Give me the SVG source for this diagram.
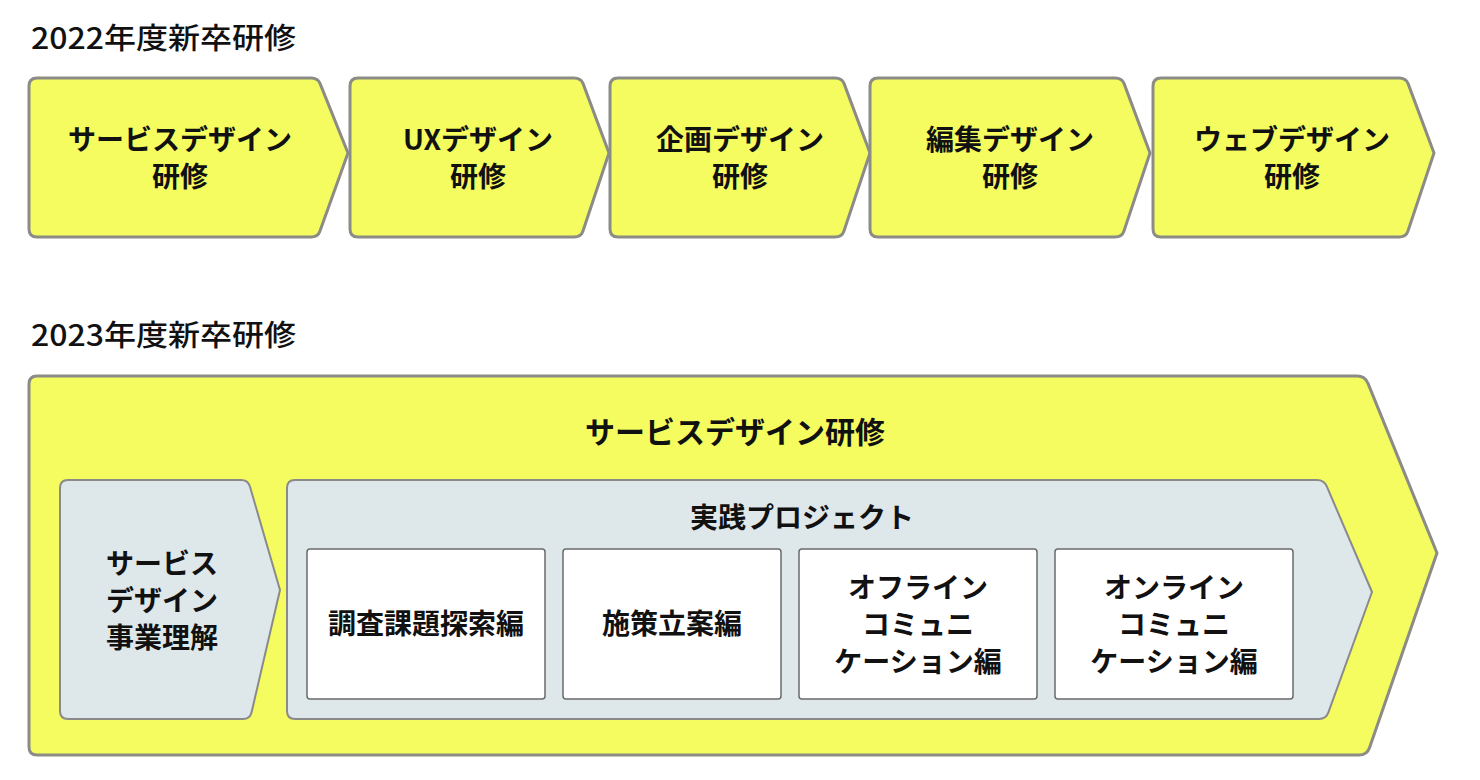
<svg xmlns="http://www.w3.org/2000/svg" width="1480" height="780" viewBox="0 0 1480 780">
<style>
.t{font-family:"Noto Sans CJK JP","Liberation Sans",sans-serif;fill:#111;}
.h{font-size:29px;font-weight:500;}
.n{font-size:28px;font-weight:700;text-anchor:middle;dominant-baseline:central;}
.big{font-size:30px;}
.y{fill:#f4fc5f;stroke:#8c8c86;stroke-width:3;stroke-linejoin:round;}
.g{fill:#dee7e9;stroke:#8a8a8a;stroke-width:2;stroke-linejoin:round;}
.w{fill:#fff;stroke:#6b6b6b;stroke-width:1.5;}
</style>
<rect width="1480" height="780" fill="#fff"/>
<text class="t h" x="31" y="49" textLength="265" lengthAdjust="spacingAndGlyphs">2022年度新卒研修</text>
<text class="t h" x="31" y="346" textLength="265" lengthAdjust="spacingAndGlyphs">2023年度新卒研修</text>

<g id="n2022-1">
<path class="y" d="M37,78 H311 Q318,78 320.1,83.6 L348,153 L319.9,231.3 Q318,237 311,237 H37 Q29,237 29,229 V86 Q29,78 37,78 Z"/>
<text class="t n" x="180" y="138">サービスデザイン</text>
<text class="t n" x="180" y="175">研修</text>
</g>
<g id="n2022-2">
<path class="y" d="M358,78 H574 Q581,78 583.1,83.6 L609,153 L582.9,231.3 Q581,237 574,237 H358 Q350,237 350,229 V86 Q350,78 358,78 Z"/>
<text class="t n" x="478" y="138">UXデザイン</text>
<text class="t n" x="478" y="175">研修</text>
</g>
<g id="n2022-3">
<path class="y" d="M618,78 H835 Q842,78 844.1,83.6 L870,153 L843.9,231.3 Q842,237 835,237 H618 Q610,237 610,229 V86 Q610,78 618,78 Z"/>
<text class="t n" x="740" y="138">企画デザイン</text>
<text class="t n" x="740" y="175">研修</text>
</g>
<g id="n2022-4">
<path class="y" d="M878,78 H1115 Q1122,78 1124.1,83.6 L1150,153 L1123.9,231.3 Q1122,237 1115,237 H878 Q870,237 870,229 V86 Q870,78 878,78 Z"/>
<text class="t n" x="1010" y="138">編集デザイン</text>
<text class="t n" x="1010" y="175">研修</text>
</g>
<g id="n2022-5">
<path class="y" d="M1161,78 H1399 Q1406,78 1408.1,83.6 L1434,153 L1407.9,231.3 Q1406,237 1399,237 H1161 Q1153,237 1153,229 V86 Q1153,78 1161,78 Z"/>
<text class="t n" x="1292" y="138">ウェブデザイン</text>
<text class="t n" x="1292" y="175">研修</text>
</g>

<g id="n2023-main">
<path class="y" d="M37,376 H1357 Q1365,376 1368,383.4 L1437,553 L1369.6,747.4 Q1367,755 1359,755 H37 Q29,755 29,747 V384 Q29,376 37,376 Z"/>
<text class="t n big" x="735" y="430">サービスデザイン研修</text>
</g>
<g id="n2023-biz">
<path class="g" d="M68,480 H241 Q248,480 250,486.7 L280,590 L251.6,712.2 Q250,719 243,719 H68 Q60,719 60,711 V488 Q60,480 68,480 Z"/>
<text class="t n" x="162" y="562">サービス</text>
<text class="t n" x="162" y="599">デザイン</text>
<text class="t n" x="162" y="636">事業理解</text>
</g>
<g id="n2023-project">
<path class="g" d="M295,480 H1317 Q1324,480 1326.8,486.4 L1372,592 L1328.4,712.4 Q1326,719 1319,719 H295 Q287,719 287,711 V488 Q287,480 295,480 Z"/>
<text class="t n" x="802" y="516">実践プロジェクト</text>
</g>
<g id="n2023-research">
<rect class="w" x="307" y="549" width="238" height="150" rx="3"/>
<text class="t n" x="426" y="622">調査課題探索編</text>
</g>
<g id="n2023-plan">
<rect class="w" x="563" y="549" width="218" height="150" rx="3"/>
<text class="t n" x="672" y="622">施策立案編</text>
</g>
<g id="n2023-offline">
<rect class="w" x="799" y="549" width="238" height="150" rx="3"/>
<text class="t n" x="918" y="586">オフライン</text>
<text class="t n" x="918" y="623">コミュニ</text>
<text class="t n" x="918" y="660">ケーション編</text>
</g>
<g id="n2023-online">
<rect class="w" x="1055" y="549" width="238" height="150" rx="3"/>
<text class="t n" x="1174" y="586">オンライン</text>
<text class="t n" x="1174" y="623">コミュニ</text>
<text class="t n" x="1174" y="660">ケーション編</text>
</g>
<g id="connectors"></g>
</svg>
